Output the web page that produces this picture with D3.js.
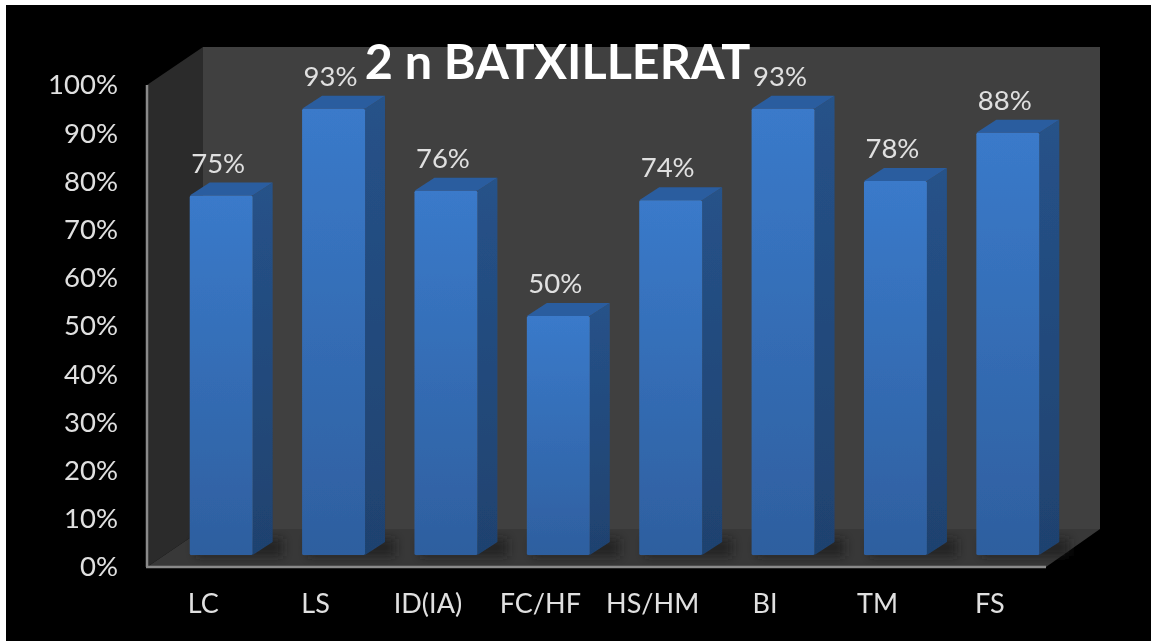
<!DOCTYPE html>
<html>
<head>
<meta charset="utf-8">
<script src="https://d3js.org/d3.v7.min.js"></script>
<style>
html, body { margin: 0; padding: 0; background: #fff; overflow: hidden; }
svg { display: block; }
text { font-family: Lato, "Open Sans", sans-serif; fill: #e0e0e0; }
</style>
</head>
<body>
<script>
let categories = ["LC", "LS", "ID(IA)", "FC/HF", "HS/HM", "BI", "TM", "FS"];
let values = [75, 93, 76, 50, 74, 93, 78, 88];
let yTicks = [0, 10, 20, 30, 40, 50, 60, 70, 80, 90, 100];
let titleText = "2 n BATXILLERAT";

let width = 1151, height = 641;
let plot = {left: 147, right: 1046, top: 85, bottom: 567};

// depth of the fake 3d box, and of the bars standing in it
let depth = {dx: 56, dy: -38};
let barDepth = {dx: 20, dy: -13};
let barShift = {dx: 18, dy: -10};

let x = d3.scaleBand()
    .domain(categories)
    .range([plot.left, plot.right])
    .paddingInner(0.44)
    .paddingOuter(0.22);

let y = d3.scaleLinear()
    .domain([0, 100])
    .range([plot.bottom, plot.top]);

let svg = d3.select("body").append("svg")
    .attr("width", width)
    .attr("height", height);

let defs = svg.append("defs");

let front = defs.append("linearGradient")
    .attr("id", "front")
    .attr("x1", 0).attr("y1", 0).attr("x2", 0).attr("y2", 1);
front.append("stop").attr("offset", "0%").attr("stop-color", "#3a7aca");
front.append("stop").attr("offset", "100%").attr("stop-color", "#2e5f9f");

let side = defs.append("linearGradient")
    .attr("id", "side")
    .attr("x1", 0).attr("y1", 0).attr("x2", 0).attr("y2", 1);
side.append("stop").attr("offset", "0%").attr("stop-color", "#265289");
side.append("stop").attr("offset", "100%").attr("stop-color", "#1f426f");

defs.append("filter").attr("id", "soft")
    .append("feGaussianBlur").attr("stdDeviation", 0.7);
defs.append("filter").attr("id", "textSoft")
    .append("feGaussianBlur").attr("stdDeviation", 0.45);
defs.append("filter").attr("id", "shadow")
    .attr("x", "-20%").attr("y", "-50%").attr("width", "140%").attr("height", "200%")
    .append("feGaussianBlur").attr("stdDeviation", 5);

function poly(points) {
    return "M" + points.map(p => p.join(",")).join("L") + "Z";
}

// page background, white strip on the top and left
svg.append("rect")
    .attr("x", 6).attr("y", 5)
    .attr("width", width - 6).attr("height", height - 5)
    .attr("fill", "#000");

// the box: back wall, left wall, floor
let box = svg.append("g").attr("class", "box");
let y0 = y(0), y100 = y(100);

box.append("path")
    .attr("d", poly([
        [plot.left + depth.dx, y100 + depth.dy],
        [plot.right + depth.dx - 2, y100 + depth.dy],
        [plot.right + depth.dx - 2, y0 + depth.dy],
        [plot.left + depth.dx, y0 + depth.dy]
    ]))
    .attr("fill", "#404040");

box.append("path")
    .attr("d", poly([
        [plot.left, y100],
        [plot.left + depth.dx, y100 + depth.dy],
        [plot.left + depth.dx, y0 + depth.dy],
        [plot.left, y0]
    ]))
    .attr("fill", "#2b2b2b");

box.append("path")
    .attr("d", poly([
        [plot.left, y0],
        [plot.left + depth.dx, y0 + depth.dy],
        [plot.right + depth.dx - 2, y0 + depth.dy],
        [plot.right, y0]
    ]))
    .attr("fill", "#383838");

// axis lines
box.append("line")
    .attr("x1", plot.left).attr("x2", plot.left)
    .attr("y1", y100).attr("y2", y0)
    .attr("stroke", "#8a8a8a").attr("stroke-width", 2.5);
box.append("line")
    .attr("x1", plot.left - 1).attr("x2", plot.right)
    .attr("y1", y0).attr("y2", y0)
    .attr("stroke", "#8a8a8a").attr("stroke-width", 2.5);

// floor shadows behind the bars
svg.append("g").selectAll("rect")
    .data(categories)
    .join("rect")
    .attr("x", d => x(d) + barShift.dx + 6)
    .attr("y", y0 + barShift.dy - 18)
    .attr("width", x.bandwidth() + barDepth.dx + 4)
    .attr("height", 17)
    .attr("fill", "#1e1e1e")
    .attr("opacity", 0.75)
    .attr("filter", "url(#shadow)");

// bars
let bars = svg.append("g").selectAll("g")
    .data(categories.map((c, i) => ({name: c, value: values[i]})))
    .join("g")
    .attr("filter", "url(#soft)");

bars.append("path")
    .attr("fill", "url(#side)")
    .attr("d", d => {
        let x1 = x(d.name) + barShift.dx + x.bandwidth();
        let top = y(d.value) + barShift.dy, bot = y0 + barShift.dy - 2;
        return poly([
            [x1, top],
            [x1 + barDepth.dx, top + barDepth.dy],
            [x1 + barDepth.dx, bot + barDepth.dy],
            [x1, bot]
        ]);
    });

bars.append("path")
    .attr("fill", "#2a5d9f")
    .attr("d", d => {
        let x0 = x(d.name) + barShift.dx, x1 = x0 + x.bandwidth();
        let top = y(d.value) + barShift.dy;
        return poly([
            [x0, top],
            [x0 + barDepth.dx, top + barDepth.dy],
            [x1 + barDepth.dx, top + barDepth.dy],
            [x1, top]
        ]);
    });

bars.append("rect")
    .attr("fill", "url(#front)")
    .attr("x", d => x(d.name) + barShift.dx)
    .attr("y", d => y(d.value) + barShift.dy)
    .attr("width", x.bandwidth())
    .attr("height", d => y0 - y(d.value) - 2)
    .attr("rx", 1.5);

// value labels
svg.append("g").attr("filter", "url(#textSoft)").selectAll("text")
    .data(categories.map((c, i) => ({name: c, value: values[i]})))
    .join("text")
    .attr("x", d => x(d.name) + x.bandwidth() / 2 + 15)
    .attr("y", d => y(d.value) - 33)
    .attr("text-anchor", "middle")
    .attr("font-size", 27.5)
    .text(d => d.value + "%");

// axes, only their labels show
let yAxis = d3.axisLeft(y)
    .tickValues(yTicks)
    .tickSize(0)
    .tickPadding(29)
    .tickFormat(d => d + "%");

let yG = svg.append("g")
    .attr("transform", "translate(" + plot.left + ",0)")
    .attr("filter", "url(#textSoft)")
    .call(yAxis);
yG.select(".domain").remove();
yG.selectAll("text").attr("font-size", 27.5).style("font-family", "Lato").style("fill", "#e0e0e0");

let xAxis = d3.axisBottom(x)
    .tickSize(0)
    .tickPadding(27);

let xG = svg.append("g")
    .attr("transform", "translate(0," + plot.bottom + ")")
    .attr("filter", "url(#textSoft)")
    .call(xAxis);
xG.select(".domain").remove();
xG.selectAll("text").attr("font-size", 27).style("font-family", "Lato").style("fill", "#e0e0e0");

svg.append("text")
    .attr("x", 557.5)
    .attr("y", 79)
    .attr("text-anchor", "middle")
    .attr("font-size", 48.5)
    .attr("font-weight", 700)
    .attr("filter", "url(#textSoft)")
    .style("fill", "#fff")
    .text(titleText);
</script>
</body>
</html>
